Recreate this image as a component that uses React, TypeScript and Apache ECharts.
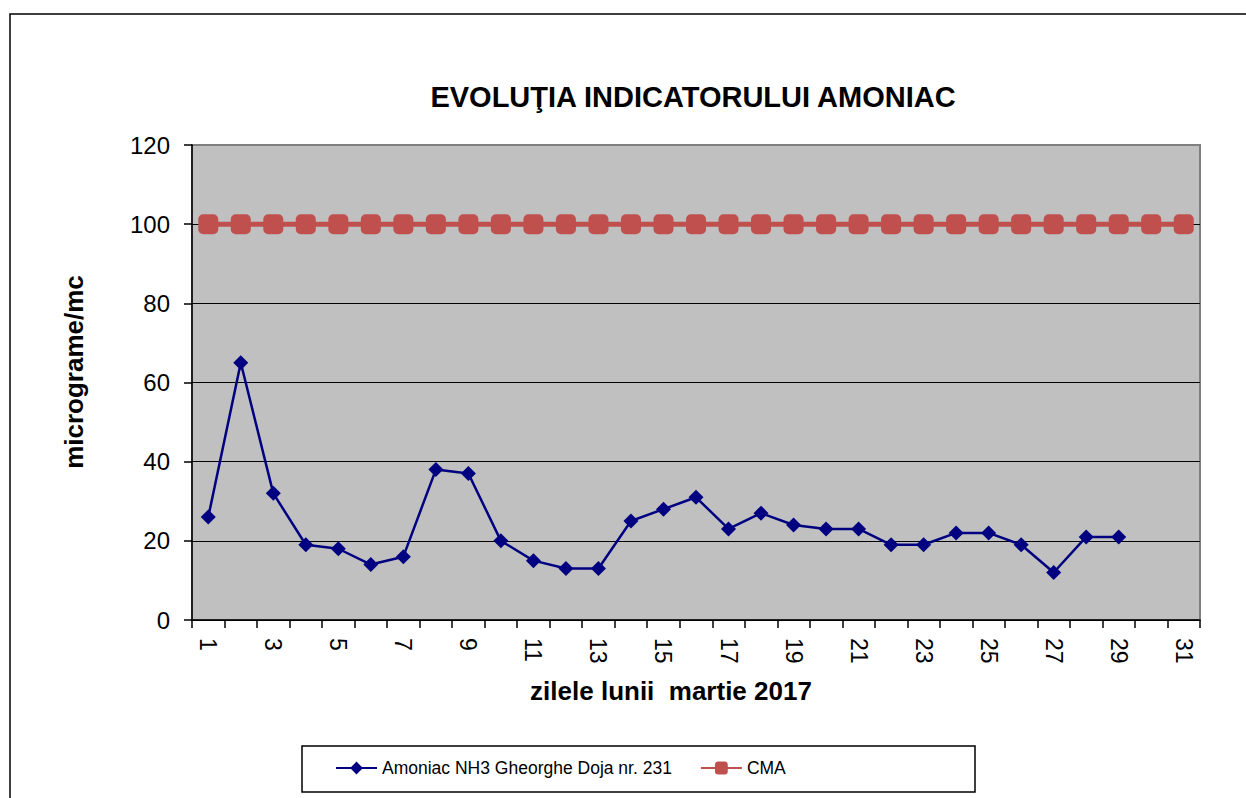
import React, { useEffect, useRef } from "react";
import * as echarts from "echarts";

const days: string[] = Array.from({ length: 31 }, (_, i) => String(i + 1));
const amoniac: (number | null)[] = [
  26, 65, 32, 19, 18, 14, 16, 38, 37, 20,
  15, 13, 13, 25, 28, 31, 23, 27, 24, 23,
  23, 19, 19, 22, 22, 19, 12, 21, 21, null, null,
];
const cma: number[] = days.map(() => 100);
const yTicks = { min: 0, max: 120, interval: 20 };

const FONT = "'Liberation Sans', Arial, Helvetica, sans-serif";

export default function App() {
  const ref = useRef<HTMLDivElement>(null);
  useEffect(() => {
    if (!ref.current) return;
    const chart = echarts.init(ref.current, undefined, { renderer: "svg" });
    chart.setOption({
      animation: false,
      backgroundColor: "#ffffff",
      textStyle: { fontFamily: FONT },
      graphic: [
        {
          type: "rect",
          shape: { x: 10, y: 14, width: 1250, height: 800 },
          style: { fill: "none", stroke: "#000", lineWidth: 1.5 },
          silent: true,
        },
        {
          type: "rect",
          shape: { x: 302, y: 746, width: 673, height: 46 },
          style: { fill: "none", stroke: "#000", lineWidth: 1.5 },
          silent: true,
        },
        {
          type: "line",
          shape: { x1: 193, y1: 145, x2: 1200, y2: 145 },
          style: { stroke: "#808080", lineWidth: 2 },
          z: 10,
          silent: true,
        },
        {
          type: "text",
          x: 693,
          y: 97,
          style: {
            text: "EVOLUŢIA INDICATORULUI AMONIAC",
            fontFamily: FONT,
            fontWeight: "bold",
            fontSize: 29,
            fill: "#000",
            textAlign: "center",
            textVerticalAlign: "middle",
          },
        },
        {
          type: "text",
          x: 74,
          y: 372,
          rotation: Math.PI / 2,
          style: {
            text: "micrograme/mc",
            fontFamily: FONT,
            fontWeight: "bold",
            fontSize: 26,
            fill: "#000",
            textAlign: "center",
            textVerticalAlign: "middle",
          },
        },
        {
          type: "text",
          x: 671,
          y: 691,
          style: {
            text: "zilele lunii  martie 2017",
            fontFamily: FONT,
            fontWeight: "bold",
            fontSize: 26,
            fill: "#000",
            textAlign: "center",
            textVerticalAlign: "middle",
          },
        },
      ],
      legend: {
        left: 335,
        top: 759,
        itemWidth: 41,
        itemHeight: 16,
        itemGap: 28,
        padding: 0,
        textStyle: { fontSize: 17.5, color: "#000", fontFamily: FONT },
        data: ["Amoniac NH3 Gheorghe Doja nr. 231", "CMA"],
      },
      grid: {
        left: 192,
        right: 46,
        top: 145,
        bottom: 178,
        show: true,
        backgroundColor: "#c0c0c0",
        borderColor: "#808080",
        borderWidth: 2,
      },
      xAxis: {
        type: "category",
        data: days,
        boundaryGap: true,
        axisLine: { show: true, lineStyle: { color: "#000", width: 1.5 } },
        axisTick: { show: true, interval: 0, length: 8, lineStyle: { color: "#000", width: 1.5 } },
        axisLabel: {
          interval: 1,
          rotate: -90,
          fontSize: 23,
          color: "#000",
          margin: 18,
          fontFamily: FONT,
        },
        splitLine: { show: false },
      },
      yAxis: {
        type: "value",
        min: yTicks.min,
        max: yTicks.max,
        interval: yTicks.interval,
        axisLine: { show: true, lineStyle: { color: "#000", width: 1.5 } },
        axisTick: { show: true, length: 8, lineStyle: { color: "#000", width: 1.5 } },
        axisLabel: { fontSize: 24, color: "#000", margin: 22, fontFamily: FONT },
        splitLine: { show: true, lineStyle: { color: "#000", width: 1.2 } },
      },
      series: [
        {
          name: "CMA",
          type: "line",
          data: cma,
          symbol: "roundRect",
          symbolSize: 20,
          itemStyle: { color: "#c0504d" },
          lineStyle: { color: "#c0504d", width: 5 },
          z: 2,
        },
        {
          name: "Amoniac NH3 Gheorghe Doja nr. 231",
          type: "line",
          data: amoniac,
          connectNulls: false,
          symbol: "diamond",
          symbolSize: 15,
          itemStyle: { color: "#000080" },
          lineStyle: { color: "#000080", width: 2.5 },
          z: 3,
        },
      ],
    });
    return () => chart.dispose();
  }, []);
  return (
    <div
      ref={ref}
      style={{ position: "absolute", left: 0, top: 0, width: 1246, height: 798 }}
    />
  );
}
